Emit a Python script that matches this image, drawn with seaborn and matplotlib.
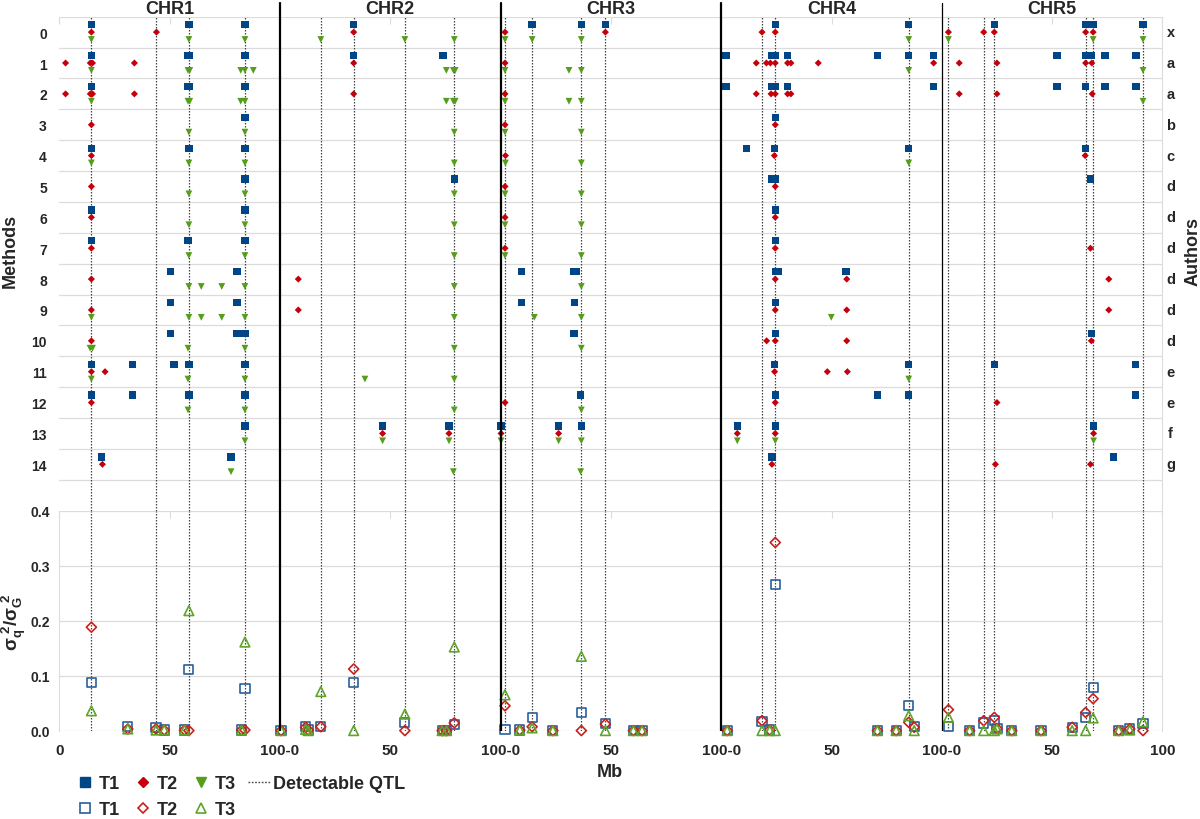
import numpy as np
import pandas as pd
import seaborn as sns
import matplotlib.pyplot as plt
import matplotlib.transforms as mtransforms
from matplotlib.lines import Line2D

# x positions are Mb on one concatenated axis: CHRk spans (k-1)*100 .. k*100
chromosomes = ['CHR1', 'CHR2', 'CHR3', 'CHR4', 'CHR5']
methods = list(range(15))
authors = ['x', 'a', 'a', 'b', 'c', 'd', 'd', 'd', 'd', 'd', 'd', 'e', 'e', 'f', 'g']
x_ticks = [0, 50, 100, 150, 200, 250, 300, 350, 400, 450, 500]
x_labels = ['0', '50', '100-0', '50', '100-0', '50', '100-0', '50', '100-0', '50', '100']

detectable_qtl = [14.5, 44.0, 58.7, 84.1, 118.5, 133.4, 156.6, 179.0, 202.0, 214.3,
                  236.6, 247.5, 318.5, 324.5, 385.0, 403.0, 419.0, 423.8, 465.2, 468.6, 491.2]

# QTL found by each method (one list per method 0..14)
t1_hits = [
    [14.5, 58.7, 84.1, 133.4, 214.3, 236.6, 247.5, 324.5, 385.0, 423.8, 465.2, 468.6, 491.2],
    [14.5, 58.3, 59.1, 84.1, 133.4, 173.9, 302.2, 323.0, 324.5, 330.1, 370.9, 385.0, 396.3,
     452.2, 465.2, 467.6, 474.0, 488.0],
    [14.5, 58.3, 59.1, 84.1, 302.2, 322.8, 324.5, 330.1, 396.3, 452.2, 465.2, 474.0, 488.0],
    [84.1, 324.5],
    [14.5, 58.7, 84.1, 311.6, 324.1, 385.0, 465.0],
    [84.1, 179.0, 323.0, 324.5, 467.4],
    [14.5, 84.1, 324.5],
    [14.5, 58.3, 84.1, 324.5],
    [50.4, 80.5, 209.4, 233.0, 234.2, 324.5, 326.0, 356.6],
    [50.4, 80.5, 209.4, 233.5, 324.5],
    [50.4, 80.5, 84.1, 233.3, 324.5, 467.8],
    [14.5, 33.1, 51.9, 58.7, 84.1, 324.2, 385.0, 423.8, 487.9],
    [14.5, 33.1, 58.7, 84.1, 236.3, 324.5, 370.9, 385.0, 487.9],
    [84.1, 146.5, 176.6, 200.2, 226.3, 236.6, 307.3, 324.5, 468.8],
    [19.2, 77.8, 323.0, 477.8],
]
t2_hits = [
    [14.5, 44.0, 133.4, 202.0, 247.5, 318.5, 324.5, 403.0, 419.0, 423.8, 465.2, 468.6],
    [2.8, 14.0, 15.0, 34.0, 133.4, 202.0, 315.9, 320.5, 322.3, 324.5, 330.1, 331.6, 344.0,
     396.3, 407.9, 425.0, 465.2, 468.0],
    [2.8, 14.0, 15.0, 34.0, 133.4, 202.0, 315.9, 322.6, 324.5, 330.1, 331.6, 407.9, 425.0, 468.2],
    [14.5, 202.0, 324.5],
    [14.5, 202.2, 324.1, 465.0],
    [14.5, 202.0, 324.5],
    [14.5, 202.0, 324.5],
    [14.5, 202.0, 324.5, 467.4],
    [14.5, 108.3, 324.5, 356.9, 475.7],
    [14.5, 108.3, 324.5, 356.9, 475.7],
    [14.5, 320.6, 324.5, 356.9, 467.8],
    [14.5, 20.7, 324.2, 348.1, 357.2],
    [14.5, 202.0, 324.5, 425.0],
    [146.5, 176.6, 200.2, 226.3, 307.3, 324.5, 468.8],
    [19.5, 323.0, 424.3, 467.4],
]
t3_hits = [
    [14.5, 58.7, 84.1, 118.5, 156.6, 179.0, 202.0, 214.3, 236.6, 385.0, 403.0, 468.6, 491.2],
    [14.5, 58.3, 59.1, 82.2, 84.1, 87.9, 175.4, 178.6, 179.4, 202.0, 231.0, 236.6, 385.0, 491.2],
    [14.5, 58.3, 59.1, 82.2, 84.1, 175.4, 178.6, 179.4, 202.0, 231.0, 236.6, 491.2],
    [58.7, 84.1, 179.0, 202.0, 236.6],
    [14.5, 58.7, 84.1, 179.0, 202.2, 236.6, 385.0],
    [58.7, 84.1, 179.0, 202.0, 236.6],
    [58.7, 84.1, 179.0, 202.0, 236.6],
    [58.7, 84.1, 179.0, 202.0, 236.6],
    [58.7, 64.3, 73.6, 84.1, 179.0, 236.6],
    [14.5, 58.7, 64.3, 73.6, 84.1, 179.0, 215.3, 236.6, 349.9],
    [13.9, 15.0, 58.3, 84.1, 179.0, 236.6],
    [14.5, 58.3, 84.1, 138.5, 179.0, 385.0],
    [58.3, 84.1, 179.0, 236.6],
    [84.1, 146.5, 176.6, 200.2, 226.3, 236.6, 307.3, 324.5, 468.8],
    [77.8, 178.6, 236.3],
]

# simulated QTL and their share of genetic variance
qtl_pos = [14.5, 31.0, 43.8, 47.5, 56.7, 58.7, 82.6, 84.1, 100.5, 111.6, 112.8, 118.5,
           133.4, 156.6, 173.5, 175.5, 179.0, 202.0, 208.7, 214.3, 223.7, 236.6, 247.5,
           260.2, 264.1, 302.7, 318.5, 322.0, 324.5, 370.8, 379.3, 385.0, 387.5, 403.0,
           412.6, 419.0, 423.8, 425.0, 431.7, 445.0, 459.1, 465.2, 468.6, 480.2, 485.2, 491.2]
var_t1 = [0.087, 0.008, 0.005, 0.001, 0.001, 0.111, 0.001, 0.076, 0.000, 0.008, 0.001, 0.007,
          0.087, 0.015, 0.000, 0.000, 0.011, 0.002, 0.001, 0.024, 0.000, 0.033, 0.013,
          0.000, 0.000, 0.000, 0.016, 0.001, 0.266, 0.000, 0.000, 0.045, 0.007, 0.007,
          0.000, 0.014, 0.019, 0.004, 0.000, 0.000, 0.006, 0.024, 0.079, 0.000, 0.003, 0.013]
var_t2 = [0.188, 0.003, 0.003, 0.001, 0.001, 0.000, 0.001, 0.001, 0.000, 0.006, 0.001, 0.007,
          0.112, 0.000, 0.000, 0.000, 0.014, 0.045, 0.001, 0.007, 0.000, 0.000, 0.012,
          0.000, 0.000, 0.000, 0.018, 0.001, 0.342, 0.000, 0.000, 0.015, 0.006, 0.038,
          0.000, 0.018, 0.024, 0.004, 0.000, 0.000, 0.006, 0.033, 0.058, 0.000, 0.003, 0.000]
var_t3 = [0.036, 0.003, 0.001, 0.001, 0.001, 0.218, 0.001, 0.161, 0.000, 0.002, 0.000, 0.071,
          0.000, 0.030, 0.000, 0.000, 0.152, 0.065, 0.001, 0.005, 0.000, 0.135, 0.000,
          0.000, 0.000, 0.000, 0.000, 0.000, 0.000, 0.000, 0.000, 0.027, 0.000, 0.024,
          0.000, 0.000, 0.000, 0.003, 0.000, 0.000, 0.000, 0.000, 0.023, 0.000, 0.001, 0.016]

traits = ['T1', 'T2', 'T3']
fill_cols = {'T1': '#004586', 'T2': '#c5000b', 'T3': '#579d1c'}
open_cols = {'T1': '#2a6099', 'T2': '#c9211e', 'T3': '#5ea52a'}
row_shift = {'T1': -0.24, 'T2': 0.0, 'T3': 0.24}

rows = []
for t, hits in zip(traits, [t1_hits, t2_hits, t3_hits]):
    for m, positions in zip(methods, hits):
        for p in positions:
            rows.append({'pos': p, 'row': m + row_shift[t], 'trait': t})
top_df = pd.DataFrame(rows)

bot_df = pd.concat([pd.DataFrame({'pos': qtl_pos, 'value': v, 'trait': t})
                    for t, v in zip(traits, [var_t1, var_t2, var_t3])], ignore_index=True)

sns.set_style('white')
plt.rcParams['font.family'] = ['Liberation Sans', 'DejaVu Sans']
plt.rcParams['font.weight'] = 'bold'
plt.rcParams['mathtext.default'] = 'regular'

W, H = 1200, 820
fig = plt.figure(figsize=(12, 8.2), dpi=100)
ax_top = fig.add_axes([59.4 / W, 1 - 511.6 / H, 1103 / W, 493.9 / H])
ax_bot = fig.add_axes([59.4 / W, 1 - 731.6 / H, 1103 / W, 220 / H])
grid_c = '#dcdcdc'

# ---- top panel: QTL detected by each method
ax_top.set_xlim(0, 500)
ax_top.set_ylim(15.5, -0.5)
for b in np.arange(-0.5, 15, 1):
    ax_top.axhline(b, color=grid_c, lw=0.9, zorder=0)
for q in detectable_qtl:
    ax_top.axvline(q, color='#444444', lw=0.9, ls=(0, (1.2, 1.2)), zorder=1)
sns.scatterplot(data=top_df, x='pos', y='row', hue='trait', style='trait', size='trait',
                markers={'T1': 's', 'T2': 'D', 'T3': 'v'}, palette=fill_cols,
                sizes={'T1': 28, 'T2': 13, 'T3': 24}, linewidth=0, legend=False,
                ax=ax_top, zorder=4)
ax_top.set_xticks(x_ticks)
ax_top.set_yticks(methods)
ax_top.set_yticklabels([str(m) for m in methods])
ax_top.tick_params(axis='y', length=0, pad=9, labelsize=10)
ax_top.tick_params(axis='x', bottom=False, top=True, direction='in', length=5,
                   color=grid_c, labelbottom=False)
ax_top.set_xlabel('')
ax_top.set_ylabel('')
for s in ['top', 'bottom', 'left']:
    ax_top.spines[s].set_visible(False)
ax_top.spines['right'].set_color(grid_c)

trans = mtransforms.blended_transform_factory(ax_top.transAxes, ax_top.transData)
for m, a in zip(methods, authors):
    ax_top.text(1.0075, m, a, transform=trans, ha='center', va='center', fontsize=10.5)
trans_x = mtransforms.blended_transform_factory(ax_top.transData, ax_top.transAxes)
for i, c in enumerate(chromosomes):
    ax_top.text(50 + 100 * i, 1.007, c, transform=trans_x, ha='center', va='baseline',
                fontsize=13)

# ---- bottom panel: variance explained by simulated QTL
ax_bot.set_xlim(0, 500)
ax_bot.set_ylim(0, 0.4)
for q in detectable_qtl:
    ax_bot.axvline(q, color='#444444', lw=0.9, ls=(0, (1.2, 1.2)), zorder=1)
sns.scatterplot(data=bot_df, x='pos', y='value', hue='trait', style='trait', size='trait',
                markers={'T1': 's', 'T2': 'D', 'T3': '^'}, palette=open_cols,
                sizes={'T1': 44, 'T2': 26, 'T3': 48}, legend=False, ax=ax_bot,
                zorder=4, clip_on=False)
pts = ax_bot.collections[-1]
pts.set_edgecolors(pts.get_facecolors())
pts.set_facecolors('none')
pts.set_linewidth(1.2)

ax_bot.set_yticks([0, 0.1, 0.2, 0.3, 0.4])
ax_bot.set_yticklabels(['0.0', '0.1', '0.2', '0.3', '0.4'])
ax_bot.yaxis.grid(True, color=grid_c, lw=0.9)
ax_bot.set_axisbelow(True)
ax_bot.set_xticks(x_ticks)
ax_bot.set_xticklabels(x_labels)
ax_bot.tick_params(axis='y', length=0, pad=7, labelsize=10)
ax_bot.tick_params(axis='x', bottom=False, top=True, direction='in', length=5,
                   color=grid_c, pad=9, labelsize=11)
ax_bot.set_xlabel('')
ax_bot.set_ylabel('')
ax_bot.spines['top'].set_visible(False)
ax_bot.spines['bottom'].set_visible(False)
ax_bot.spines['left'].set_color(grid_c)
ax_bot.spines['right'].set_color(grid_c)

# chromosome boundaries
for b, lw in zip([100, 200, 300, 400], [1.6, 1.6, 1.6, 0.9]):
    ax_top.axvline(b, ymin=0, ymax=1 + 13.7 / 493.9, color='black', lw=lw,
                   clip_on=False, zorder=5)
    ax_bot.axvline(b, color='black', lw=lw, zorder=5)

fig.text(10 / W, 1 - 251 / H, 'Methods', rotation=90, ha='center', va='center', fontsize=13)
fig.text(1193 / W, 1 - 252 / H, 'Authors', rotation=90, ha='center', va='center', fontsize=13)
fig.text(14 / W, 1 - 622 / H, r'$\sigma_q^{\ 2}/\sigma_G^{\ 2}$', rotation=90,
         ha='center', va='center', fontsize=13.5)
fig.text(610 / W, 1 - 773 / H, 'Mb', ha='center', va='center', fontsize=13)

handles = [
    Line2D([], [], marker='s', ls='none', color=fill_cols['T1'], markersize=7, label='T1'),
    Line2D([], [], marker='s', ls='none', mfc='none', mec=open_cols['T1'], mew=1.2,
           markersize=7, label='T1'),
    Line2D([], [], marker='D', ls='none', color=fill_cols['T2'], markersize=5.5, label='T2'),
    Line2D([], [], marker='D', ls='none', mfc='none', mec=open_cols['T2'], mew=1.2,
           markersize=5.5, label='T2'),
    Line2D([], [], marker='v', ls='none', color=fill_cols['T3'], markersize=7, label='T3'),
    Line2D([], [], marker='^', ls='none', mfc='none', mec=open_cols['T3'], mew=1.2,
           markersize=7.5, label='T3'),
    Line2D([], [], color='#444444', lw=1, ls=(0, (1.2, 1.2)), label='Detectable QTL'),
    Line2D([], [], color='none', label=''),
]
fig.legend(handles=handles, ncol=4, loc='upper left', bbox_to_anchor=(74 / W, 1 - 776 / H),
           frameon=False, fontsize=13, handlelength=1.2, handletextpad=0.15,
           columnspacing=0.7, labelspacing=0.5, borderpad=0, borderaxespad=0)

fig.savefig('out.png', dpi=100)
